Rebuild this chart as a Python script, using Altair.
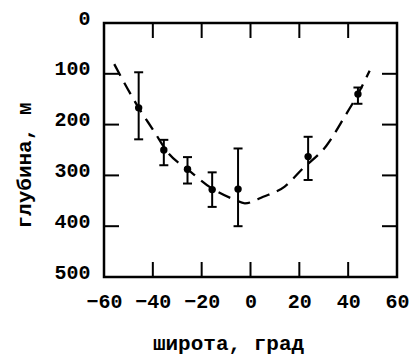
import altair as alt
import pandas as pd

# measured points with error bars
lat = [-45.8, -35.5, -25.8, -15.7, -5.1, 23.6, 44.0]
depth = [167, 250, 288, 328, 327, 263, 140]
err_top = [97, 230, 264, 294, 247, 224, 127]
err_bot = [229, 280, 316, 362, 400, 309, 159]

# dashed fitted curve
curve_lat = [-55.8, -45.8, -39.8, -33.7, -25.5, -16.0, -6.4, -2.3, 5.2, 14.0, 21.5, 31.0, 38.6, 44.0, 48.8]
curve_depth = [81, 167, 211, 256, 289, 325, 348, 355, 342, 322, 286, 242, 184, 140, 94]

x_tick_labels = [-60, -40, -20, 0, 20, 40, 60]
y_tick_labels = [0, 100, 200, 300, 400, 500]
x_inner_ticks = [-40, -20, 0, 20, 40]
y_inner_ticks = [100, 200, 300, 400]

W, H = 293, 254
FONT = "Liberation Mono"

pts = pd.DataFrame({"lat": lat, "depth": depth, "lo": err_top, "hi": err_bot})
curve_df = pd.DataFrame({"lat": curve_lat, "depth": curve_depth})
xt = pd.DataFrame({"lat": x_inner_ticks})
yt = pd.DataFrame({"depth": y_inner_ticks})

xs = alt.Scale(domain=[-60, 60], nice=False, zero=False)
ys = alt.Scale(domain=[0, 500], reverse=True, nice=False)

x_ax = alt.Axis(values=x_tick_labels, ticks=False, tickSize=0, domain=False, grid=False,
                labelFont=FONT, labelFontWeight="bold", labelFontSize=20, labelColor="black",
                labelPadding=14, labelFlush=False, labelOverlap=False,
                title="широта, град", titleFont=FONT, titleFontSize=21, titleFontWeight="bold",
                titleColor="black", titleX=124, titleY=66, titleAlign="center", titleBaseline="middle")
y_ax = alt.Axis(values=y_tick_labels, ticks=False, tickSize=0, domain=False, grid=False,
                labelFont=FONT, labelFontWeight="bold", labelFontSize=20, labelColor="black",
                labelPadding=14, labelFlush=False, labelOverlap=False, labelOffset=-5,
                title="глубина, м", titleFont=FONT, titleFontSize=21, titleFontWeight="bold",
                titleColor="black", titleX=-80, titleY=142, titleAlign="center", titleBaseline="middle",
                titleAngle=270)


def X(f):
    return alt.X(f, scale=xs, axis=x_ax)


def Y(f):
    return alt.Y(f, scale=ys, axis=y_ax)


curve = alt.Chart(curve_df).mark_line(color="black", strokeWidth=2.3, strokeDash=[13, 8],
                                      interpolate="monotone").encode(x=X("lat:Q"), y=Y("depth:Q"))

bars = alt.Chart(pts).mark_rule(color="black", strokeWidth=2).encode(
    x=X("lat:Q"), y=Y("lo:Q"), y2="hi:Q")
cap_lo = alt.Chart(pts).mark_tick(orient="horizontal", size=9, thickness=2, color="black", opacity=1).encode(
    x=X("lat:Q"), y=Y("lo:Q"))
cap_hi = alt.Chart(pts).mark_tick(orient="horizontal", size=9, thickness=2, color="black", opacity=1).encode(
    x=X("lat:Q"), y=Y("hi:Q"))
dots = alt.Chart(pts).mark_circle(size=55, color="black", opacity=1).encode(
    x=X("lat:Q"), y=Y("depth:Q"))

tick_len = 15
bottom = alt.Chart(xt).mark_rule(color="black", strokeWidth=2).encode(
    x=X("lat:Q"), y=alt.value(H), y2=alt.value(H - tick_len))
top = alt.Chart(xt).mark_rule(color="black", strokeWidth=2).encode(
    x=X("lat:Q"), y=alt.value(0), y2=alt.value(tick_len))
left = alt.Chart(yt).mark_rule(color="black", strokeWidth=2).encode(
    y=Y("depth:Q"), x=alt.value(0), x2=alt.value(tick_len))
right = alt.Chart(yt).mark_rule(color="black", strokeWidth=2).encode(
    y=Y("depth:Q"), x=alt.value(W), x2=alt.value(W - tick_len))

chart = alt.layer(curve, bars, cap_lo, cap_hi, dots, bottom, top, left, right).properties(
    width=W, height=H,
    autosize=alt.AutoSizeParams(type="none"),
    padding={"left": 96, "top": 15, "right": 14, "bottom": 84},
    background="white",
).configure_view(stroke="black", strokeWidth=2.5)

chart.save("out.html", embed_options={"renderer": "svg", "actions": False})
